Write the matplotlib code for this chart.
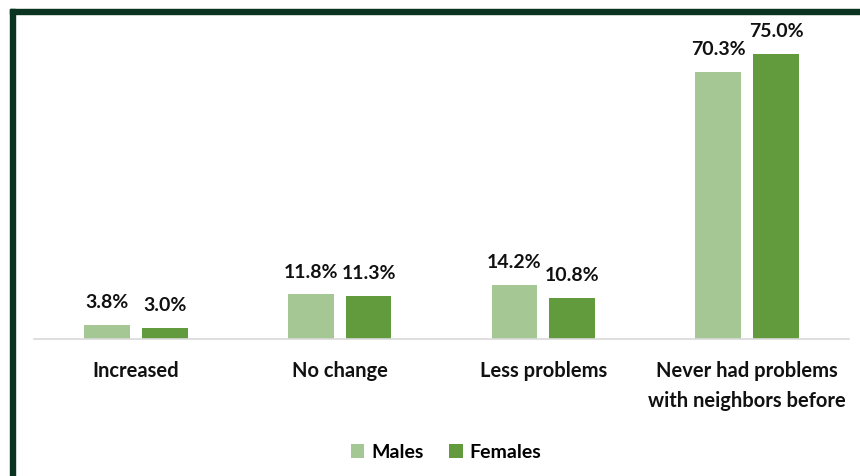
import matplotlib.pyplot as plt
import numpy as np
from matplotlib.patches import Rectangle

# data
categories = ["Increased", "No change", "Less problems", "Never had problems\nwith neighbors before"]
males = [3.8, 11.8, 14.2, 70.3]
females = [3.0, 11.3, 10.8, 75.0]

LIGHT = "#a5c793"
DARK = "#629a3e"
BORDER = "#0b3321"

plt.rcParams["font.family"] = ["Lato", "DejaVu Sans"]

fig = plt.figure(figsize=(8.6, 4.76), dpi=100)
ax = fig.add_axes([34 / 860, 1 - 339 / 476, (849 - 34) / 860, (339 - 15) / 476])

x = np.arange(len(categories))
w = 0.225
off = 0.142
b1 = ax.bar(x - off, males, w, color=LIGHT, label="Males")
b2 = ax.bar(x + off, females, w, color=DARK, label="Females")

for bars, vals in [(b1, males), (b2, females)]:
    for b, v in zip(bars, vals):
        ax.text(b.get_x() + b.get_width() / 2, v + 3.6, f"{v:.1f}%",
                ha="center", va="bottom", fontsize=14, fontweight="bold", color="#111111")

ax.set_xlim(-0.5, len(categories) - 0.5)
ax.set_ylim(0, 85.3)
ax.set_yticks([])
ax.set_xticks(x)
ax.set_xticklabels(categories, fontsize=14.5, fontweight="bold", color="#111111", linespacing=1.6)
ax.tick_params(axis="x", length=0, pad=16)
for s in ["top", "right", "left"]:
    ax.spines[s].set_visible(False)
ax.spines["bottom"].set_color("#d9d9d9")
ax.spines["bottom"].set_linewidth(1.2)

leg = fig.legend(handles=[b1, b2], loc="center", bbox_to_anchor=(446 / 860, 1 - 452 / 476),
                 ncol=2, frameon=False, prop={"size": 14, "weight": "bold"},
                 handlelength=0.7, handleheight=0.7, handletextpad=0.35, columnspacing=1.3)

# dark frame on top and left
fig.patches.append(Rectangle((10 / 860, 0), 5 / 860, 1 - 9 / 476, transform=fig.transFigure,
                             color=BORDER, zorder=5))
fig.patches.append(Rectangle((10 / 860, 1 - 14 / 476), 1 - 10 / 860, 5 / 476, transform=fig.transFigure,
                             color=BORDER, zorder=5))

fig.savefig("out.png", dpi=100)
